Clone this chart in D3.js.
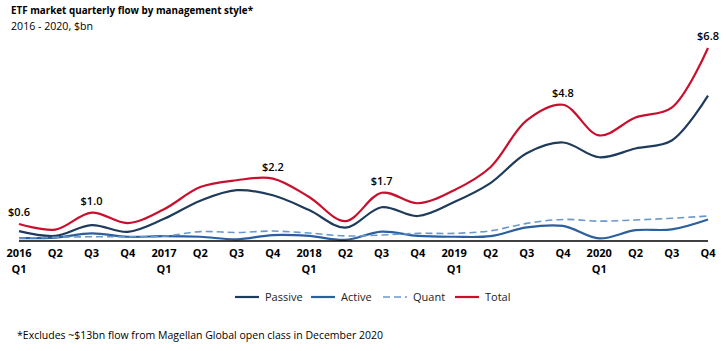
<!DOCTYPE html>
<html>
<head>
<meta charset="utf-8">
<script src="https://cdn.jsdelivr.net/npm/d3@7"></script>
<style>
  body { margin: 0; background: #fff; }
  svg { font-family: "Open Sans", sans-serif; }
</style>
</head>
<body>
<div id="chart"></div>
<script>
// quarters 2016 Q1 .. 2020 Q4
var quarters = ["2016|Q1","Q2","Q3","Q4","2017|Q1","Q2","Q3","Q4","2018|Q1","Q2","Q3","Q4",
                "2019|Q1","Q2","Q3","Q4","2020|Q1","Q2","Q3","Q4"];

// flows, $bn
var passive = [0.35,0.18,0.56,0.32,0.78,1.42,1.79,1.61,1.09,0.47,1.19,0.88,1.37,2.04,3.09,3.47,2.95,3.26,3.54,5.12];
var active  = [0.10,0.12,0.27,0.15,0.17,0.15,0.06,0.21,0.18,0.04,0.33,0.18,0.15,0.17,0.48,0.53,0.09,0.38,0.41,0.76];
var quant   = [0.10,0.13,0.15,0.15,0.17,0.33,0.30,0.35,0.28,0.18,0.21,0.27,0.27,0.36,0.62,0.76,0.70,0.74,0.80,0.88];
var total   = [0.60,0.40,1.00,0.63,1.12,1.90,2.14,2.20,1.55,0.70,1.70,1.33,1.79,2.60,4.25,4.80,3.72,4.35,4.70,6.80];

// labelled points on the total line
var labelIdx = [0, 2, 7, 10, 15, 19];

var series = [
  {name: "Passive", values: passive, color: "#1f3b5c", dash: null, width: 2.2},
  {name: "Active",  values: active,  color: "#2b5f9e", dash: null, width: 2.2},
  {name: "Quant",   values: quant,   color: "#6b98cb", dash: "7,4", width: 1.6},
  {name: "Total",   values: total,   color: "#c8102e", dash: null, width: 2.2}
];

var width = 726, height = 351;

var svg = d3.select("#chart")
  .append("svg")
  .attr("width", width)
  .attr("height", height);

// scales
var x = d3.scaleLinear()
  .domain([0, quarters.length - 1])
  .range([19, 708]);

var y = d3.scaleLinear()
  .domain([0, 6.8])
  .range([241, 48]);

// title
svg.append("text")
  .attr("x", 11).attr("y", 14)
  .attr("font-size", "11px")
  .attr("font-weight", "bold")
  .attr("textLength", 242)
  .attr("lengthAdjust", "spacingAndGlyphs")
  .text("ETF market quarterly flow by management style*");

svg.append("text")
  .attr("x", 11).attr("y", 30)
  .attr("font-size", "11px")
  .attr("textLength", 82)
  .attr("lengthAdjust", "spacingAndGlyphs")
  .text("2016 - 2020, $bn");

// lines
var line = d3.line()
  .x(function(d, i) { return x(i); })
  .y(function(d) { return y(d); })
  .curve(d3.curveCatmullRom.alpha(0.5));

svg.selectAll(".series")
  .data(series)
  .enter().append("path")
  .attr("class", "series")
  .attr("d", function(d) { return line(d.values); })
  .attr("fill", "none")
  .attr("stroke", function(d) { return d.color; })
  .attr("stroke-width", function(d) { return d.width; })
  .attr("stroke-dasharray", function(d) { return d.dash; });

// x axis line
svg.append("line")
  .attr("x1", x(0)).attr("x2", x(quarters.length - 1))
  .attr("y1", y(0)).attr("y2", y(0))
  .attr("stroke", "#000")
  .attr("stroke-width", 1.3);

// tick labels
var ticks = svg.selectAll(".tick")
  .data(quarters)
  .enter().append("text")
  .attr("class", "tick")
  .attr("x", function(d, i) { return x(i); })
  .attr("y", 257)
  .attr("text-anchor", "middle")
  .attr("font-size", "11px")
  .attr("font-weight", "bold");

ticks.each(function(d) {
  var parts = d.split("|");
  var t = d3.select(this);
  parts.forEach(function(p, j) {
    t.append("tspan")
      .attr("x", t.attr("x"))
      .attr("dy", j === 0 ? 0 : 16)
      .text(p);
  });
});

// data labels on total
svg.selectAll(".dlabel")
  .data(labelIdx)
  .enter().append("text")
  .attr("class", "dlabel")
  .attr("x", function(i) { return x(i); })
  .attr("y", function(i) { return y(total[i]) - 8; })
  .attr("text-anchor", "middle")
  .attr("font-size", "11px")
  .attr("font-weight", 600)
  .text(function(i) { return "$" + total[i].toFixed(1); });

// legend
var legendX = [235, 311, 383, 455];
var legend = svg.selectAll(".legend")
  .data(series)
  .enter().append("g")
  .attr("class", "legend")
  .attr("transform", function(d, i) { return "translate(" + legendX[i] + ",297)"; });

legend.append("line")
  .attr("x1", 0).attr("x2", 24)
  .attr("stroke", function(d) { return d.color; })
  .attr("stroke-width", function(d) { return d.dash ? 1.6 : 2.2; })
  .attr("stroke-dasharray", function(d) { return d.dash; });

legend.append("text")
  .attr("x", 30).attr("y", 4)
  .attr("font-size", "11px")
  .attr("fill", "#222")
  .text(function(d) { return d.name; });

// footnote
svg.append("text")
  .attr("x", 17).attr("y", 339)
  .attr("font-size", "10px")
  .attr("textLength", 366)
  .attr("lengthAdjust", "spacingAndGlyphs")
  .text("*Excludes ~$13bn flow from Magellan Global open class in December 2020");
</script>
</body>
</html>
